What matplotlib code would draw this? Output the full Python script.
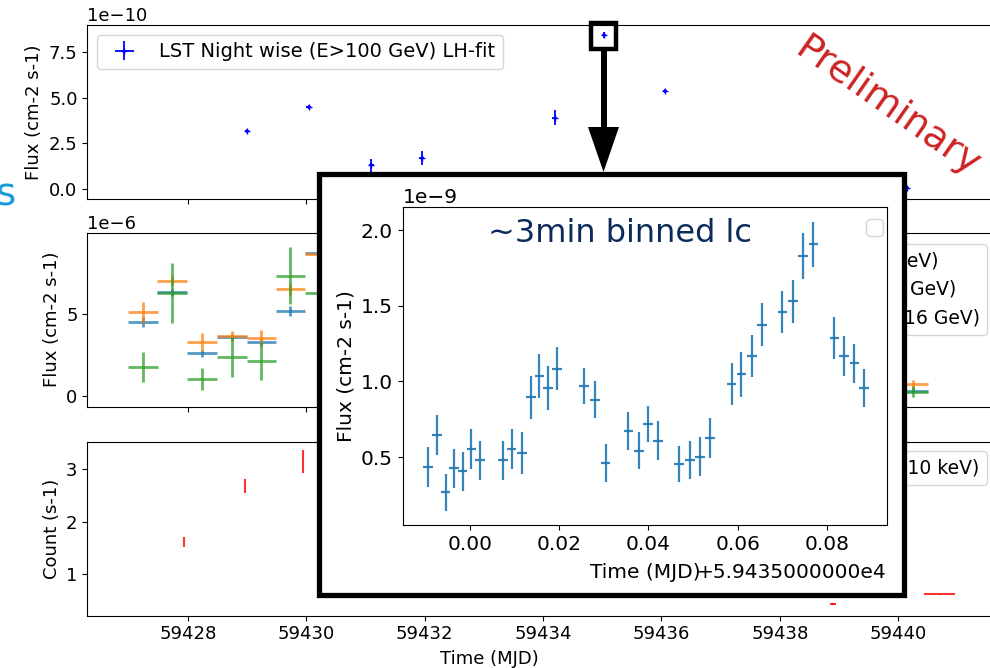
import matplotlib.pyplot as plt
from matplotlib.patches import Rectangle, Polygon

# LST night-wise light curve (1e-10 cm-2 s-1)
lst_mjd = [59429.0, 59430.04, 59431.1, 59431.95, 59434.2, 59435.03, 59436.06, 59440.15]
lst_flux = [3.18, 4.48, 1.3, 1.7, 3.9, 8.41, 5.37, 0.04]
lst_err = [0.1, 0.1, 0.35, 0.4, 0.4, 0.15, 0.12, 0.1]

# Fermi-LAT bins (1e-6 cm-2 s-1)
fermi_mjd = [59427.24, 59427.73, 59428.24, 59428.74, 59429.24, 59429.73, 59430.23, 59440.25]
fermi_a = [4.51, 6.33, 2.59, 3.59, 3.27, 5.21, 8.76, 0.31]
fermi_a_err = [0.3, 0.2, 0.2, 0.2, 0.2, 0.3, 0.3, 0.15]
fermi_b = [5.10, 7.02, 3.27, 3.65, 3.55, 6.53, 8.70, 0.70]
fermi_b_err = [0.66, 0.3, 0.56, 0.3, 0.5, 0.4, 0.4, 0.25]
fermi_c = [1.78, 6.27, 1.02, 2.39, 2.12, 7.35, 6.27, 0.25]
fermi_c_err = [0.92, 1.84, 0.66, 1.22, 1.14, 1.73, 1.5, 0.33]
fermi_labels = ['Fermi-LAT (0.1-1 GeV)', 'Fermi-LAT (0.1-3.2 GeV)', 'Fermi-LAT (0.10-3.16 GeV)']

# Swift-XRT count rate
xrt_mjd = [59427.94, 59428.96, 59429.94, 59438.9, 59440.70]
xrt_rate = [1.615, 2.68, 3.15, 0.43, 0.613]
xrt_err = [0.1, 0.14, 0.22, 0.02, 0.01]
xrt_xerr = [0.0, 0.0, 0.0, 0.05, 0.265]

# ~3 min binned LST light curve of the flare night (days after MJD 59435, 1e-9)
lc_t = [-0.00934, -0.00732, -0.00538, -0.00352, -0.00157, 0.00036, 0.0023,
        0.0074, 0.0094, 0.0117, 0.0137, 0.0156, 0.0175, 0.0195,
        0.0256, 0.0280, 0.0304, 0.0355, 0.0379, 0.0399, 0.0422,
        0.0469, 0.0493, 0.0516, 0.0538, 0.0586, 0.0608, 0.0632, 0.0654,
        0.0700, 0.0723, 0.0746, 0.0769, 0.0816, 0.0838, 0.0861, 0.0883]
lc_flux = [0.432, 0.647, 0.267, 0.426, 0.406, 0.552, 0.481,
           0.481, 0.554, 0.530, 0.896, 1.035, 0.956, 1.084,
           0.969, 0.879, 0.462, 0.675, 0.543, 0.720, 0.609,
           0.455, 0.483, 0.503, 0.627, 0.985, 1.046, 1.170, 1.375,
           1.459, 1.530, 1.828, 1.907, 1.287, 1.168, 1.121, 0.956]
lc_err = [0.132, 0.132, 0.121, 0.127, 0.127, 0.132, 0.129,
          0.129, 0.132, 0.139, 0.143, 0.146, 0.143, 0.143,
          0.12, 0.121, 0.127, 0.125, 0.121, 0.121, 0.129,
          0.121, 0.127, 0.13, 0.132, 0.138, 0.146, 0.14, 0.14,
          0.14, 0.143, 0.15, 0.149, 0.141, 0.134, 0.128, 0.124]
lc_half_bin = 0.00107

W, H = 990, 668


def px(l, t, r, b):
    return [l / W, 1 - b / H, (r - l) / W, (b - t) / H]


fig = plt.figure(figsize=(9.9, 6.68), dpi=100)
fs = 13

ax1 = fig.add_axes(px(87.3, 25, 1010, 199.3))
ax2 = fig.add_axes(px(87.3, 232.7, 1010, 406.7), sharex=ax1)
ax3 = fig.add_axes(px(87.3, 442.3, 1010, 615.7), sharex=ax1)

ax1.errorbar(lst_mjd, [v * 1e-10 for v in lst_flux], yerr=[e * 1e-10 for e in lst_err],
             xerr=0.04, fmt='+', ms=4, color='blue', lw=1.3,
             label='LST Night wise (E>100 GeV) LH-fit')
ax1.set_ylim(-0.56e-10, 8.96e-10)
ax1.set_yticks([0, 2.5e-10, 5e-10, 7.5e-10])
ax1.set_ylabel('Flux (cm-2 s-1)', fontsize=fs)
ax1.legend(loc='upper left', fontsize=14)

for vals, errs, col, lab in [(fermi_a, fermi_a_err, 'C0', fermi_labels[0]),
                             (fermi_b, fermi_b_err, 'C1', fermi_labels[1]),
                             (fermi_c, fermi_c_err, 'C2', fermi_labels[2])]:
    ax2.errorbar(fermi_mjd, [v * 1e-6 for v in vals], yerr=[e * 1e-6 for e in errs],
                 xerr=0.25, fmt='none', ecolor=col, lw=2, alpha=0.75, label=lab)
ax2.set_ylim(-0.67e-6, 9.98e-6)
ax2.set_yticks([0, 5e-6])
ax2.set_ylabel('Flux (cm-2 s-1)', fontsize=fs)
ax2.legend(loc='upper right', fontsize=13.5, bbox_to_anchor=(987 / W, 1 - 244 / H),
           bbox_transform=fig.transFigure, borderaxespad=0)

ax3.errorbar(xrt_mjd, xrt_rate, yerr=xrt_err, xerr=xrt_xerr, fmt='none',
             ecolor='red', lw=1.5, alpha=0.8, label='Swift-XRT (0.3-10 keV)')
ax3.set_ylim(0.206, 3.51)
ax3.set_yticks([1, 2, 3])
ax3.set_ylabel('Count (s-1)', fontsize=fs)
ax3.set_xlabel('Time (MJD)', fontsize=fs)
ax3.xaxis.set_label_coords(0.436, -0.195)
ax3.legend(loc='upper right', fontsize=13.5, bbox_to_anchor=(987 / W, 1 - 451 / H),
           bbox_transform=fig.transFigure, borderaxespad=0)

ax1.set_xlim(59426.30, 59441.89)
ax1.set_xticks([59428, 59430, 59432, 59434, 59436, 59438, 59440])
for ax in (ax1, ax2, ax3):
    ax.tick_params(labelsize=fs)
    ax.yaxis.get_offset_text().set_fontsize(fs)
ax1.tick_params(labelbottom=False)
ax2.tick_params(labelbottom=False)

# zoom box, arrow and inset frame
fig.add_artist(Rectangle((591 / W, 1 - 48.7 / H), 24.5 / W, 25.7 / H, transform=fig.transFigure,
                         fill=False, ec='black', lw=3.2, zorder=5))
fig.add_artist(Polygon([(601 / W, 1 - 48 / H), (607 / W, 1 - 48 / H), (607 / W, 1 - 127 / H),
                        (619 / W, 1 - 127 / H), (603.5 / W, 1 - 172 / H), (588 / W, 1 - 127 / H),
                        (601 / W, 1 - 127 / H)], closed=True, transform=fig.transFigure,
                       fc='black', ec='none', zorder=5))
fig.add_artist(Rectangle((319 / W, 1 - 595 / H), 585 / W, 421 / H, transform=fig.transFigure,
                         fc='white', ec='black', lw=3.8, zorder=5))

axi = fig.add_axes(px(402.7, 207.3, 887, 525))
axi.set_zorder(6)
fsi = 14.5
axi.errorbar(lc_t, [v * 1e-9 for v in lc_flux], yerr=[e * 1e-9 for e in lc_err],
             xerr=lc_half_bin, fmt='none', ecolor='C0', lw=1.6, alpha=0.9)
axi.set_xlim(-0.0150, 0.0934)
axi.set_ylim(0.052e-9, 2.150e-9)
axi.set_xticks([0.0, 0.02, 0.04, 0.06, 0.08])
axi.set_yticks([0.5e-9, 1.0e-9, 1.5e-9, 2.0e-9])
axi.tick_params(labelsize=fsi)
axi.yaxis.get_offset_text().set_fontsize(fsi)
axi.set_ylabel('Flux (cm-2 s-1)', fontsize=fsi)
axi.set_xlabel('Time (MJD)', fontsize=fsi, va='center')
axi.xaxis.set_label_coords(0.5, -0.148)
axi.text(1.0, -0.148, '+5.9435000000e4', transform=axi.transAxes, ha='right',
         va='center', fontsize=fsi)
axi.legend(handles=[], loc='upper right', fontsize=15, bbox_to_anchor=(0.992, 0.963),
           borderaxespad=0)

fig.text(488 / W, 1 - 234 / H, '~3min binned lc', fontsize=23, color='#0c2a5c',
         va='center', ha='left', zorder=10)
fig.text(887 / W, 1 - 107 / H, 'Preliminary', fontsize=27.5, color='#cc2222',
         rotation=-35, ha='center', va='center', zorder=10)
fig.text(-4 / W, 1 - 194 / H, 's', fontsize=28, color='#1a9ad6', ha='left', va='center')

fig.savefig('out.png', dpi=100)
